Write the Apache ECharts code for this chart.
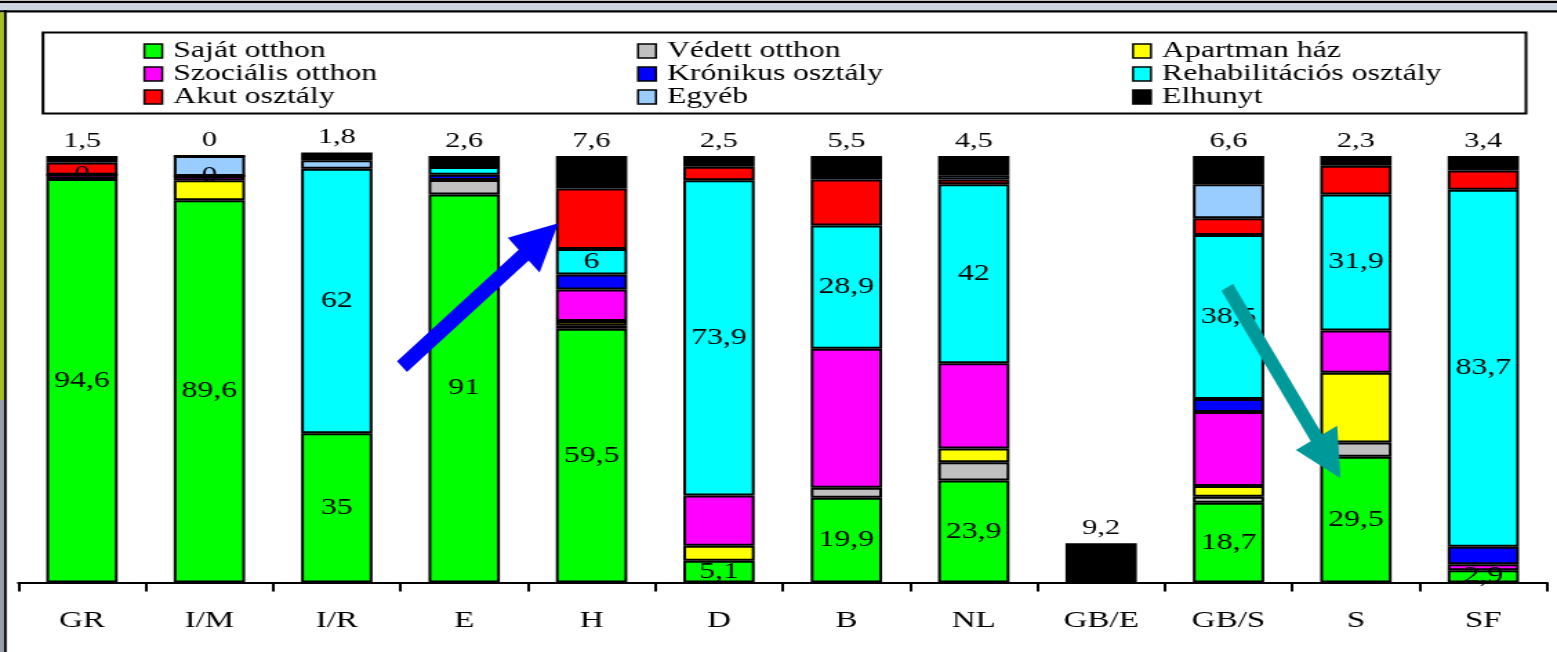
<!DOCTYPE html>
<html>
<head>
<meta charset="utf-8">
<script src="https://cdn.jsdelivr.net/npm/echarts@6/dist/echarts.min.js"></script>
<style>
  html, body { margin: 0; padding: 0; background: #fff; overflow: hidden; }
  /* the slide artwork is drawn horizontally stretched */
  #chart { width: 1128px; height: 652px; transform: scaleX(1.380319); transform-origin: 0 0; }
  #fontprobe { position: absolute; left: -999px; top: 0; font-family: 'Liberation Serif'; font-size: 23px; }
</style>
</head>
<body>
<span id="fontprobe">Saját 0,1</span>
<div id="chart"></div>
<script>
// Where patients went after discharge, share (%) per country
const countries = ['GR', 'I/M', 'I/R', 'E', 'H', 'D', 'B', 'NL', 'GB/E', 'GB/S', 'S', 'SF'];

const sajatOtthon     = [94.6, 89.6, 35,   91,   59.5, 5.1,  19.9, 23.9, null, 18.7, 29.5, 2.9];
const vedettOtthon    = [null, null, null, 3.4,  0.8,  null, 2.3,  4.3,  null, 1.4,  3.3,  null];
const apartmanHaz     = [null, 4.7,  null, null, 1.0,  3.5,  null, 3.2,  null, 2.5,  16.4, null];
const szocialisOtthon = [1.0,  1.0,  null, null, 7.4,  11.8, 32.6, 20.0, null, 17.4, 9.9,  1.4];
const kronikusOsztaly = [null, null, null, 1.2,  3.5,  null, null, null, null, 3.0,  null, 4.1];
const rehabOsztaly    = [0,    0,    62,   1.8,  6,    73.9, 28.9, 42,   null, 38.5, 31.9, 83.7];
const akutOsztaly     = [2.9,  null, null, null, 14.2, 3.2,  10.8, 1.1,  null, 3.9,  6.7,  4.5];
const egyeb           = [null, 4.7,  2.0,  null, null, null, null, 1.0,  null, 8.0,  null, null];
const elhunyt         = [1.5,  0,    1.8,  2.6,  7.6,  2.5,  5.5,  4.5,  9.2,  6.6,  2.3,  3.4];

// categories whose rehabilitation share is written on the bar
const rehabLabelled = ['GR', 'I/M', 'I/R', 'H', 'D', 'B', 'NL', 'GB/S', 'S', 'SF'];

const seriesNames = ['Saját otthon', 'Védett otthon', 'Apartman ház', 'Szociális otthon',
  'Krónikus osztály', 'Rehabilitációs osztály', 'Akut osztály', 'Egyéb', 'Elhunyt'];
const seriesValues = [sajatOtthon, vedettOtthon, apartmanHaz, szocialisOtthon,
  kronikusOsztaly, rehabOsztaly, akutOsztaly, egyeb, elhunyt];
const seriesColors = ['#00FF00', '#C0C0C0', '#FFFF00', '#FF00FF', '#0000FF',
  '#00FFFF', '#FF0000', '#99CCFF', '#000000'];

const SERIF = 'Liberation Serif';
const SX = 1557 / 1128;             // horizontal stretch of the artwork
const fmt = v => String(v).replace('.', ',');

function labelFor(idx, i) {
  if (idx === 0) return { show: sajatOtthon[i] != null };
  if (idx === 5) return { show: rehabLabelled.includes(countries[i]) };
  return undefined;
}

const series = seriesNames.map((name, idx) => ({
  name,
  type: 'bar',
  stack: 'total',
  barWidth: '56%',
  clip: false,
  emphasis: { disabled: true },
  itemStyle: { color: seriesColors[idx], borderColor: '#000', borderWidth: 2 },
  label: idx === 8
    ? { show: true, position: 'top', distance: 4, color: '#000', fontFamily: SERIF,
        fontSize: 22, textBorderWidth: 0, formatter: p => fmt(p.value) }
    : { show: false, position: 'inside', color: '#000', fontFamily: SERIF,
        fontSize: 23, textBorderWidth: 0, overflow: 'none', formatter: p => fmt(p.value) },
  data: seriesValues[idx].map((v, i) => {
    const lab = labelFor(idx, i);
    return lab ? { value: v, label: lab } : v;
  })
}));

// block arrow as a polygon, given in stretched page pixels
function arrow(tail, tip, shaftW, headL, headW) {
  const dx = tip[0] - tail[0], dy = tip[1] - tail[1];
  const len = Math.hypot(dx, dy);
  const ux = dx / len, uy = dy / len, px = -uy, py = ux;
  const bx = tip[0] - ux * headL, by = tip[1] - uy * headL;
  const s = shaftW / 2;
  const pts = [
    [tail[0] + px * s, tail[1] + py * s],
    [bx + px * s, by + py * s],
    [bx + px * headW, by + py * headW],
    tip,
    [bx - px * headW, by - py * headW],
    [bx - px * s, by - py * s],
    [tail[0] - px * s, tail[1] - py * s]
  ];
  return pts.map(p => [p[0] / SX, p[1]]);
}

function legendColumn(names, leftPx) {
  return {
    data: names,
    orient: 'vertical',
    left: leftPx / SX,
    top: 39.5,
    padding: 0,
    itemWidth: 13,
    itemHeight: 14,
    itemGap: 0,
    icon: 'rect',
    selectedMode: false,
    itemStyle: { borderColor: '#000', borderWidth: 1.5 },
    textStyle: { color: '#000', fontFamily: SERIF, fontSize: 23, lineHeight: 21, padding: [0, 0, 0, 3] }
  };
}

function draw() {
  const chart = echarts.init(document.getElementById('chart'), null, { renderer: 'canvas' });
  chart.setOption({
    animation: false,
    backgroundColor: '#fff',
    textStyle: { fontFamily: SERIF },
    grid: { left: 18.3 / SX, right: 1128 - 1547 / SX, top: 156, bottom: 69.5, containLabel: false },
    legend: [
      legendColumn([seriesNames[0], seriesNames[3], seriesNames[6]], 143.3),
      legendColumn([seriesNames[1], seriesNames[4], seriesNames[7]], 637),
      legendColumn([seriesNames[2], seriesNames[5], seriesNames[8]], 1132)
    ],
    xAxis: {
      type: 'category',
      data: countries,
      axisLine: { lineStyle: { color: '#000', width: 2 } },
      axisTick: { show: true, length: 9, lineStyle: { color: '#000', width: 2 } },
      axisLabel: { color: '#000', fontFamily: SERIF, fontSize: 24, margin: 26, interval: 0 }
    },
    yAxis: { type: 'value', min: 0, max: 100, show: false, splitLine: { show: false } },
    series,
    graphic: [
      // window frame
      { type: 'rect', shape: { x: 0, y: 0.7, width: 1128, height: 2.6 }, style: { fill: '#000' }, silent: true },
      { type: 'rect', shape: { x: 0, y: 3.3, width: 1128, height: 6.9 }, style: { fill: '#cdd6df' }, silent: true },
      { type: 'rect', shape: { x: 0, y: 10.2, width: 1128, height: 2.2 }, style: { fill: '#000' }, silent: true },
      { type: 'rect', shape: { x: 0, y: 12.4, width: 4 / SX, height: 388 }, style: { fill: '#a6c01e' }, silent: true },
      { type: 'rect', shape: { x: 0, y: 400, width: 4 / SX, height: 252 }, style: { fill: '#9aa1a9' }, silent: true },
      { type: 'rect', shape: { x: 4 / SX, y: 10.2, width: 2.6 / SX, height: 642 }, style: { fill: '#000' }, silent: true },
      // legend box
      { type: 'rect', shape: { x: 43 / SX, y: 32.5, width: (1526 - 43) / SX, height: 81 },
        style: { fill: 'transparent', stroke: '#000', lineWidth: 2 }, silent: true, z: 1 },
      // highlight arrows
      { type: 'polygon', shape: { points: arrow([402, 366.7], [558.3, 223.3], 14.7, 47, 23.5) },
        style: { fill: '#0000FF' }, silent: true, z: 100 },
      { type: 'polygon', shape: { points: arrow([1227.2, 287.2], [1340.5, 478.3], 13.5, 47, 24) },
        style: { fill: '#009999' }, silent: true, z: 100 }
    ]
  });
}

if (document.fonts && document.fonts.load) {
  document.fonts.load('23px "Liberation Serif"').then(draw, draw);
} else {
  draw();
}
</script>
</body>
</html>
